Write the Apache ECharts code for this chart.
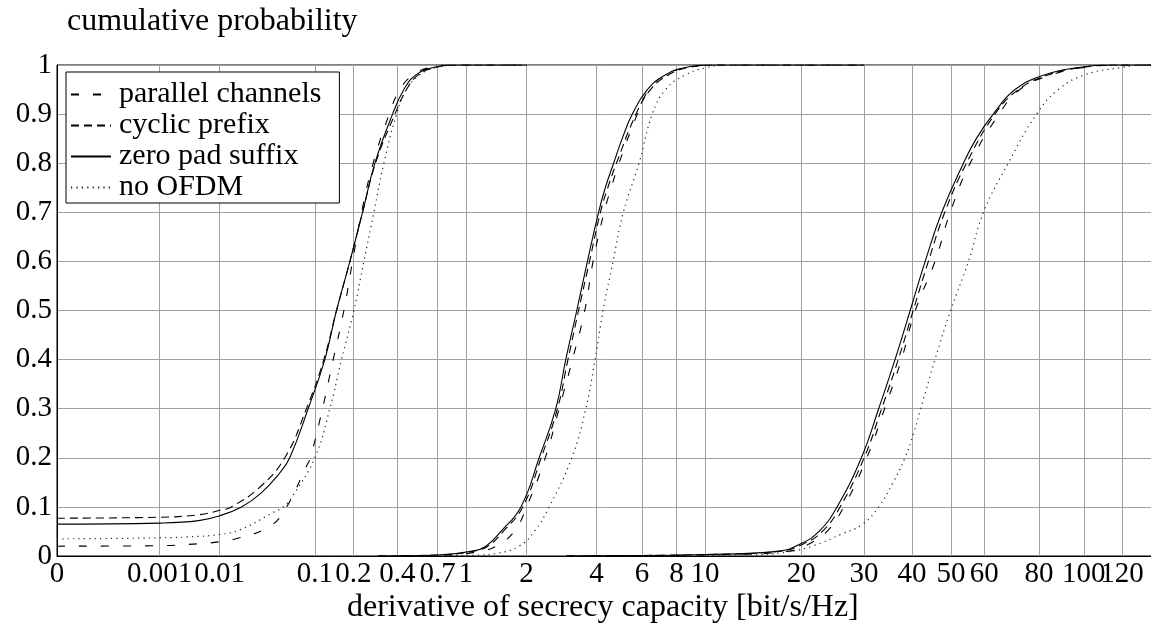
<!DOCTYPE html>
<html>
<head>
<meta charset="utf-8">
<script src="https://cdn.jsdelivr.net/npm/echarts@6/dist/echarts.min.js"></script>
<style>
  html, body { margin: 0; padding: 0; background: #ffffff; }
  #chart { width: 1151px; height: 626px; }
</style>
</head>
<body>
<div id="chart"></div>
<script>
// Horizontal axis uses a fifth-root scale: screen position grows with x^(1/5).
const X_EXPONENT = 0.2;
const X_MAX = 160;

const xTickValues = [0, 0.001, 0.01, 0.1, 0.2, 0.4, 0.7, 1, 2, 4, 6, 8, 10, 20, 30, 40, 50, 60, 80, 100, 120];
const xTickLabels = ['0', '0.001', '0.01', '0.1', '0.2', '0.4', '0.7', '1', '2', '4', '6', '8', '10', '20', '30', '40', '50', '60', '80', '100', '120'];

const legendNames = ['parallel channels', 'cyclic prefix', 'zero pad suffix', 'no OFDM'];

// CDF curves, low-rate set: [derivative of secrecy capacity, cumulative probability]
const parallelLow = [[0,0.02],[0.001,0.021],[0.005,0.025],[0.01,0.029],[0.0178,0.037],[0.0356,0.057],[0.0513,0.087],[0.0864,0.187],[0.0916,0.2],[0.1155,0.3],[0.1407,0.4],[0.1702,0.5],[0.1975,0.6],[0.2295,0.7],[0.2769,0.8],[0.3545,0.9],[0.4152,0.95],[0.5027,0.98],[0.632,0.995],[0.856,1],[2,1]];
const cyclicLow = [[0,0.077],[0.001,0.079],[0.005,0.084],[0.01,0.093],[0.0141,0.1],[0.03,0.14],[0.0537,0.2],[0.0846,0.3],[0.1185,0.4],[0.1494,0.5],[0.1888,0.6],[0.2332,0.7],[0.2873,0.8],[0.3859,0.9],[0.4572,0.95],[0.539,0.98],[0.68,0.995],[0.93,1],[2,1]];
const zeroPadLow = [[0,0.065],[0.001,0.067],[0.005,0.072],[0.01,0.082],[0.0187,0.1],[0.0301,0.126],[0.048,0.169],[0.0598,0.2],[0.0875,0.3],[0.1206,0.4],[0.1494,0.5],[0.1888,0.6],[0.2332,0.7],[0.2843,0.8],[0.3727,0.9],[0.44,0.95],[0.5217,0.98],[0.6605,0.995],[0.93,1],[2,1]];
const noOfdmLow = [[0,0.035],[0.001,0.037],[0.005,0.04],[0.01,0.044],[0.0178,0.053],[0.0408,0.088],[0.0518,0.1],[0.0635,0.122],[0.0997,0.2],[0.1324,0.3],[0.1633,0.4],[0.2019,0.5],[0.2384,0.6],[0.2799,0.7],[0.3269,0.8],[0.3956,0.9],[0.4572,0.95],[0.5516,0.98],[0.6904,0.995],[0.93,1],[2,1]];

// CDF curves, mid-rate set
const parallelMid = [[0.3,0],[0.8,0.002],[1.2,0.01],[1.43,0.02],[1.75,0.05],[2.0,0.1],[2.43,0.2],[2.795,0.3],[3.187,0.4],[3.586,0.5],[3.878,0.6],[4.292,0.7],[4.58,0.75],[4.911,0.8],[5.766,0.9],[6.369,0.95],[7.315,0.98],[8.8,0.995],[11,1],[30,1]];
const cyclicMid = [[0.3,0],[0.7,0.002],[1.1,0.01],[1.3,0.02],[1.55,0.05],[1.92,0.1],[2.33,0.2],[2.75,0.3],[3.05,0.4],[3.38,0.5],[3.75,0.6],[4.15,0.7],[4.44,0.75],[4.8,0.8],[5.7,0.9],[6.45,0.95],[7.5,0.98],[8.8,0.995],[11,1],[30,1]];
const zeroPadMid = [[0.3,0],[0.7,0.002],[1.086,0.01],[1.272,0.02],[1.51,0.05],[1.882,0.1],[2.283,0.2],[2.704,0.3],[2.986,0.4],[3.323,0.5],[3.677,0.6],[4.08,0.7],[4.34,0.75],[4.68,0.8],[5.05,0.85],[5.52,0.9],[6.278,0.95],[7.315,0.98],[8.59,0.995],[10.85,1],[30,1]];
const noOfdmMid = [[0.5,0],[1.2,0.002],[1.427,0.005],[1.848,0.02],[2.168,0.05],[2.529,0.1],[3.167,0.2],[3.62,0.3],[3.95,0.4],[4.253,0.5],[4.656,0.6],[5.104,0.7],[5.85,0.8],[6.55,0.9],[7.315,0.95],[8.59,0.98],[10.2,0.995],[12,1],[30,1]];

// CDF curves, high-rate set
const parallelHigh = [[3,0],[12,0.003],[18.5,0.01],[21,0.024],[23.7,0.05],[26.4,0.1],[30.5,0.2],[34.0,0.3],[37.6,0.4],[40.8,0.5],[45.7,0.6],[49.8,0.7],[55.6,0.8],[65.0,0.9],[72.5,0.95],[85.2,0.98],[100.5,0.995],[119.8,1],[160,1]];
const cyclicHigh = [[3,0],[10,0.003],[17.5,0.01],[20.2,0.024],[23,0.05],[25.8,0.1],[30,0.2],[33.4,0.3],[36.9,0.4],[40.3,0.5],[44,0.6],[48.3,0.7],[54.5,0.8],[63.6,0.9],[72,0.95],[84,0.98],[99,0.995],[116,1],[160,1]];
const zeroPadHigh = [[3,0],[10,0.003],[17.2,0.01],[19.8,0.024],[22.5,0.05],[25.3,0.1],[29.5,0.2],[32.8,0.3],[36.2,0.4],[39.6,0.5],[43.2,0.6],[47.5,0.7],[53.6,0.8],[57.5,0.85],[63.0,0.9],[70.7,0.95],[82.4,0.98],[97.3,0.995],[114.2,1],[160,1]];
const noOfdmHigh = [[5,0],[15,0.003],[18.8,0.01],[21.5,0.02],[26.1,0.045],[29.6,0.064],[32.8,0.1],[35.8,0.15],[38.4,0.2],[40.4,0.25],[42.1,0.3],[45.7,0.4],[49.9,0.5],[55.1,0.6],[59.8,0.7],[68.2,0.8],[79.0,0.9],[88.2,0.95],[100.5,0.98],[119.8,0.995],[133.4,1],[160,1]];

const FONT = 'Liberation Serif';
const PX_PER_UNIT = 408.8;

const toAxis = (x) => Math.pow(x, X_EXPONENT);
const tickPositions = xTickValues.map(toAxis);
// Neighbouring labels touch, so they are split over two overlaid bottom axes
// to keep the overlap check from dropping any of them.
const evenTicks = tickPositions.filter((_, i) => i % 2 === 0);
const oddTicks = tickPositions.filter((_, i) => i % 2 === 1);

const styles = {
  'parallel channels': { type: [8, 14], width: 1.1, color: '#000' },
  'cyclic prefix':     { type: [8, 5],  width: 1.1, color: '#000' },
  'zero pad suffix':   { type: 'solid', width: 1.1, color: '#000' },
  'no OFDM':           { type: [1.2, 4.2], width: 1.2, color: '#222' }
};

const groups = [
  [parallelLow, cyclicLow, zeroPadLow, noOfdmLow],
  [parallelMid, cyclicMid, zeroPadMid, noOfdmMid],
  [parallelHigh, cyclicHigh, zeroPadHigh, noOfdmHigh]
];

const series = [];
groups.forEach((set) => {
  set.forEach((pts, i) => {
    const name = legendNames[i];
    series.push({
      name: name,
      type: 'line',
      xAxisIndex: 0,
      data: pts.map(([x, y]) => [toAxis(x), y]),
      symbol: 'none',
      showSymbol: false,
      smooth: 0.45,
      lineStyle: Object.assign({}, styles[name]),
      itemStyle: { color: styles[name].color, opacity: 0 },
      emphasis: { disabled: true },
      clip: true,
      animation: false
    });
  });
});

function tickLabel(v) {
  let best = 0, bestD = Infinity;
  tickPositions.forEach((p, i) => {
    const d = Math.abs(p - v);
    if (d < bestD) { bestD = d; best = i; }
  });
  return xTickLabels[best];
}

const xLabelStyle = {
  formatter: tickLabel,
  fontFamily: FONT,
  fontSize: 29,
  color: '#000',
  margin: 4,
  hideOverlap: false
};

const chart = echarts.init(document.getElementById('chart'), null, { renderer: 'canvas' });

chart.setOption({
  animation: false,
  backgroundColor: '#ffffff',
  grid: {
    left: 57,
    top: 65,
    width: PX_PER_UNIT * toAxis(X_MAX),
    height: 491,
    containLabel: false,
    outerBoundsMode: 'none',
    show: true,
    borderColor: '#000',
    borderWidth: 1,
    backgroundColor: 'transparent'
  },
  xAxis: [
    {
      type: 'value',
      position: 'bottom',
      min: 0,
      max: toAxis(X_MAX),
      axisLine: { show: true, onZero: false, lineStyle: { color: '#000', width: 1 } },
      axisTick: { show: false, customValues: tickPositions },
      splitLine: { show: true, lineStyle: { color: '#a0a0a0', width: 1 } },
      axisLabel: Object.assign({ customValues: evenTicks }, xLabelStyle)
    },
    {
      type: 'value',
      position: 'bottom',
      offset: 0,
      min: 0,
      max: toAxis(X_MAX),
      axisLine: { show: false },
      axisTick: { show: false, customValues: oddTicks },
      splitLine: { show: false },
      axisLabel: Object.assign({ customValues: oddTicks }, xLabelStyle)
    }
  ],
  yAxis: {
    type: 'value',
    min: 0,
    max: 1,
    interval: 0.1,
    axisLine: { show: true, lineStyle: { color: '#000', width: 1 } },
    axisTick: { show: false },
    splitLine: { show: true, lineStyle: { color: '#a0a0a0', width: 1 } },
    axisLabel: {
      fontFamily: FONT,
      fontSize: 29,
      color: '#000',
      margin: 5,
      formatter: (v) => String(Math.round(v * 10) / 10)
    }
  },
  legend: {
    data: legendNames,
    orient: 'vertical',
    left: 66,
    top: 72,
    padding: [7, 18, 0, 4],
    itemGap: 0,
    itemWidth: 40,
    itemHeight: 12,
    itemStyle: { opacity: 0 },
    backgroundColor: '#ffffff',
    borderColor: '#000',
    borderWidth: 1,
    borderRadius: 0,
    selectedMode: false,
    textStyle: { fontFamily: FONT, fontSize: 30, color: '#000', lineHeight: 31, padding: [0, 0, 0, 3] }
  },
  graphic: [
    {
      type: 'text',
      left: 67,
      top: 6,
      style: { text: 'cumulative probability', font: '32px "Liberation Serif"', fill: '#000' }
    },
    {
      type: 'text',
      left: 347,
      top: 592,
      style: { text: 'derivative of secrecy capacity [bit/s/Hz]', font: '32px "Liberation Serif"', fill: '#000' }
    }
  ],
  series: series
});
</script>
</body>
</html>
